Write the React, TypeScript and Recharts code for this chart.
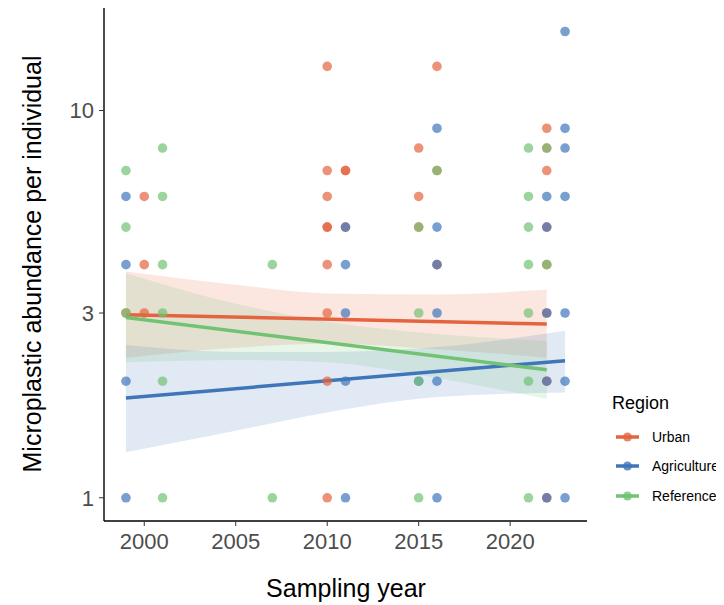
import React from "react";
import {
  ComposedChart,
  Scatter,
  Line,
  Area,
  XAxis,
  YAxis,
} from "recharts";

const xTicks = [2000, 2005, 2010, 2015, 2020];
const yTicks = [1, 3, 10];

const urbanYear = [1999, 2000, 2000, 2000, 2010, 2010, 2010, 2010, 2010, 2010, 2010, 2010, 2010, 2011, 2011, 2011, 2015, 2015, 2015, 2016, 2016, 2016, 2022, 2022, 2022, 2022, 2022, 2022, 2022, 2022];
const urbanValue = [3, 6, 4, 3, 13, 7, 6, 5, 5, 4, 3, 2, 1, 7, 7, 5, 8, 6, 5, 13, 7, 4, 9, 8, 7, 5, 4, 3, 2, 1];

const agriYear = [1999, 1999, 1999, 1999, 2011, 2011, 2011, 2011, 2011, 2015, 2016, 2016, 2016, 2016, 2016, 2016, 2022, 2022, 2022, 2022, 2022, 2023, 2023, 2023, 2023, 2023, 2023, 2023];
const agriValue = [6, 4, 2, 1, 5, 4, 3, 2, 1, 2, 9, 5, 4, 3, 2, 1, 6, 5, 3, 2, 1, 16, 9, 8, 6, 3, 2, 1];

const refYear = [1999, 1999, 1999, 2001, 2001, 2001, 2001, 2001, 2001, 2007, 2007, 2015, 2015, 2015, 2015, 2016, 2021, 2021, 2021, 2021, 2021, 2021, 2021, 2022, 2022];
const refValue = [7, 5, 3, 8, 6, 4, 3, 2, 1, 4, 1, 5, 3, 2, 1, 7, 8, 6, 5, 4, 3, 2, 1, 8, 4];

// fitted trend lines
const urbanFitYear = [1999, 2022];
const urbanFit = [2.97, 2.81];
const agriFitYear = [1999, 2023];
const agriFit = [1.81, 2.26];
const refFitYear = [1999, 2022];
const refFit = [2.92, 2.14];

// confidence bands
const urbanBandYear = [1999, 2005, 2010, 2016, 2022];
const urbanLow = [2.3, 2.44, 2.5, 2.42, 2.3];
const urbanHigh = [3.84, 3.55, 3.37, 3.35, 3.45];
const agriBandYear = [1999, 2005, 2010, 2016, 2023];
const agriLow = [1.31, 1.49, 1.66, 1.82, 1.87];
const agriHigh = [2.48, 2.38, 2.38, 2.45, 2.7];
const refBandYear = [1999, 2005, 2010, 2016, 2022];
const refLow = [2.24, 2.27, 2.24, 2.04, 1.8];
const refHigh = [3.8, 3.17, 2.85, 2.65, 2.54];

const regions = ["Urban", "Agriculture", "Reference"];
const colors = ["#e4643f", "#3f76ba", "#72c274"];

const pts = (ys: number[], vs: number[]) => ys.map((year, i) => ({ year, value: vs[i] }));
const fit = (ys: number[], vs: number[]) => ys.map((year, i) => ({ year, fit: vs[i] }));
const band = (ys: number[], lo: number[], hi: number[]) =>
  ys.map((year, i) => ({ year, band: [lo[i], hi[i]] }));

const series = [
  { pts: pts(urbanYear, urbanValue), fit: fit(urbanFitYear, urbanFit), band: band(urbanBandYear, urbanLow, urbanHigh) },
  { pts: pts(agriYear, agriValue), fit: fit(agriFitYear, agriFit), band: band(agriBandYear, agriLow, agriHigh) },
  { pts: pts(refYear, refValue), fit: fit(refFitYear, refFit), band: band(refBandYear, refLow, refHigh) },
];

const font = "'Liberation Sans', Arial, sans-serif";

function Dot(props: any) {
  const { cx, cy, fill } = props;
  return <circle cx={cx} cy={cy} r={4.8} fill={fill} fillOpacity={0.7} />;
}

function RegionLegend() {
  return (
    <div style={{ position: "absolute", left: 596, top: 385, fontFamily: font, color: "#000" }}>
      <div style={{ fontSize: 18, marginBottom: 8, marginLeft: 8 }}>Region</div>
      {regions.map((r, i) => (
        <div key={r} style={{ display: "flex", alignItems: "center", height: 29.5 }}>
          <svg width={48} height={16}>
            <line x1={12} x2={35} y1={8} y2={8} stroke={colors[i]} strokeWidth={3.5} />
            <circle cx={23.5} cy={8} r={4.5} fill={colors[i]} fillOpacity={0.8} />
          </svg>
          <span style={{ fontSize: 14 }}>{r}</span>
        </div>
      ))}
    </div>
  );
}

export default function App() {
  return (
    <div style={{ position: "relative", width: 716, height: 597, fontFamily: font }}>
      <ComposedChart width={716} height={597} margin={{ top: 0, right: 137, bottom: 0, left: 0 }}>
        <XAxis
          type="number"
          dataKey="year"
          domain={[1997.8, 2024.2]}
          ticks={xTicks}
          allowDataOverflow
          height={84}
          tick={{ fontSize: 22, fill: "#4d4d4d", fontFamily: font }}
          tickLine={{ stroke: "#333" }}
          tickSize={5}
          tickMargin={7}
          axisLine={{ stroke: "#000", strokeWidth: 1.4 }}
          label={{
            content: () => (
              <text x={338} y={589} textAnchor="middle" fontSize={25} fill="#000" fontFamily={font}>
                Sampling year
              </text>
            ),
          }}
        />
        <YAxis
          type="number"
          scale="log"
          domain={[0.871, 18.4]}
          ticks={yTicks}
          allowDataOverflow
          width={96}
          tick={{ fontSize: 22, fill: "#4d4d4d", fontFamily: font }}
          tickLine={{ stroke: "#333" }}
          tickSize={5}
          tickMargin={5}
          axisLine={{ stroke: "#000", strokeWidth: 1.4 }}
          label={{
            content: () => (
              <text
                x={24}
                y={256}
                transform="rotate(-90, 24, 256)"
                textAnchor="middle"
                dominantBaseline="central"
                fontSize={25}
                fill="#000"
                fontFamily={font}
              >
                Microplastic abundance per individual
              </text>
            ),
          }}
        />
        {series.map((s, i) => (
          <Scatter
            key={"p" + i}
            data={s.pts}
            dataKey="value"
            fill={colors[i]}
            shape={<Dot />}
            isAnimationActive={false}
            legendType="none"
          />
        ))}
        {series.map((s, i) => (
          <Area
            key={"b" + i}
            data={s.band}
            dataKey="band"
            type="monotone"
            stroke="none"
            fill={colors[i]}
            fillOpacity={0.16}
            dot={false}
            activeDot={false}
            isAnimationActive={false}
            legendType="none"
          />
        ))}
        {series.map((s, i) => (
          <Line
            key={"l" + i}
            data={s.fit}
            dataKey="fit"
            type="linear"
            stroke={colors[i]}
            strokeWidth={3.5}
            dot={false}
            activeDot={false}
            isAnimationActive={false}
            legendType="none"
          />
        ))}
      </ComposedChart>
      <RegionLegend />
    </div>
  );
}
